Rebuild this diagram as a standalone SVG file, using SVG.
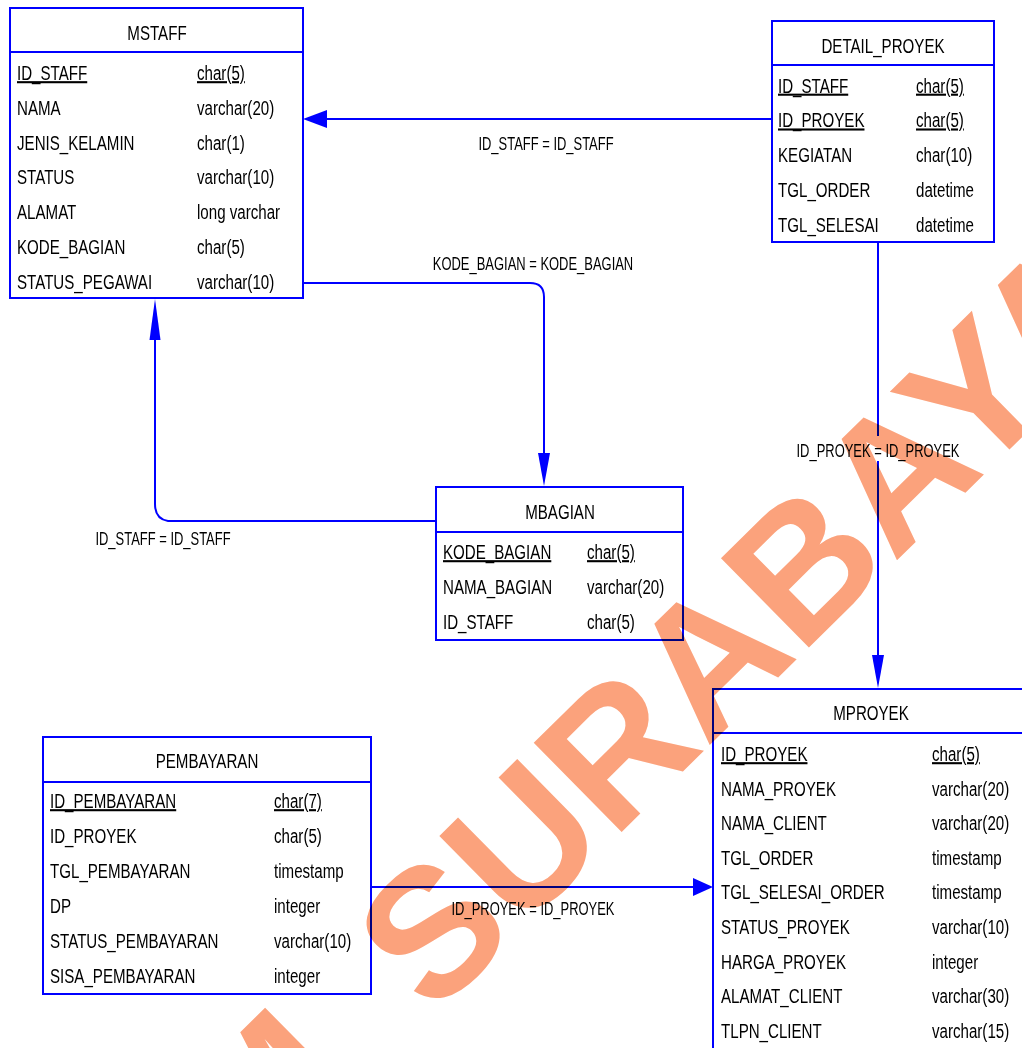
<svg xmlns="http://www.w3.org/2000/svg" width="1022" height="1048" viewBox="0 0 1022 1048">
<style>
.box{fill:#fff;stroke:#0000ff;stroke-width:2}
.hl{stroke:#0000ff;stroke-width:2}
.t{font-family:"Liberation Sans",Arial,sans-serif;font-size:21px;fill:#000}
.m{text-anchor:middle}
.u{text-decoration:underline}
.lb{font-family:"Liberation Sans",Arial,sans-serif;font-size:18px;fill:#000;text-anchor:middle}
.c{fill:none;stroke:#0000ff;stroke-width:2}
.ah{fill:#0000ff}
.wm{font-family:"Liberation Sans",Arial,sans-serif;font-weight:bold;font-size:182px;fill:#FBA27C;mix-blend-mode:multiply}
</style>
<rect width="1022" height="1048" fill="#fff"/>

<g id="connectors">
  <line class="c" x1="771" y1="119" x2="325" y2="119"/>
  <polygon class="ah" points="303,119 327,110 327,128"/>
  <path class="c" d="M303 283 H530 Q544 283 544 297 V460"/>
  <polygon class="ah" points="544,486 538,453 550,453"/>
  <path class="c" d="M436 521 H168 Q155 519 155 504 V336"/>
  <polygon class="ah" points="155,299 149.5,340 160.5,340"/>
  <line class="c" x1="878" y1="242" x2="878" y2="436"/>
  <line class="c" x1="878" y1="461" x2="878" y2="660"/>
  <polygon class="ah" points="878,688 872,655 884,655"/>
  <line class="c" x1="371" y1="887" x2="695" y2="887"/>
  <polygon class="ah" points="713,887 693,878 693,896"/>
  <text class="lb" transform="translate(546 150) scale(0.72 1)">ID_STAFF = ID_STAFF</text>
  <text class="lb" transform="translate(533 270) scale(0.72 1)">KODE_BAGIAN = KODE_BAGIAN</text>
  <text class="lb" transform="translate(163 545) scale(0.72 1)">ID_STAFF = ID_STAFF</text>
  <text class="lb" transform="translate(878 457) scale(0.72 1)">ID_PROYEK = ID_PROYEK</text>
  <text class="lb" transform="translate(533 915) scale(0.72 1)">ID_PROYEK = ID_PROYEK</text>
</g>

<g id="MSTAFF">
  <rect class="box" x="10" y="8" width="293" height="290"/>
  <line class="hl" x1="10" y1="52" x2="303" y2="52"/>
  <text class="t m" transform="translate(157 40) scale(0.72 1)">MSTAFF</text>
  <text class="t u" transform="translate(17 80) scale(0.72 1)">ID_STAFF</text>
  <text class="t u" transform="translate(197 80) scale(0.72 1)">char(5)</text>
  <text class="t" transform="translate(17 114.8) scale(0.72 1)">NAMA</text>
  <text class="t" transform="translate(197 114.8) scale(0.72 1)">varchar(20)</text>
  <text class="t" transform="translate(17 149.6) scale(0.72 1)">JENIS_KELAMIN</text>
  <text class="t" transform="translate(197 149.6) scale(0.72 1)">char(1)</text>
  <text class="t" transform="translate(17 184.4) scale(0.72 1)">STATUS</text>
  <text class="t" transform="translate(197 184.4) scale(0.72 1)">varchar(10)</text>
  <text class="t" transform="translate(17 219.2) scale(0.72 1)">ALAMAT</text>
  <text class="t" transform="translate(197 219.2) scale(0.72 1)">long varchar</text>
  <text class="t" transform="translate(17 254) scale(0.72 1)">KODE_BAGIAN</text>
  <text class="t" transform="translate(197 254) scale(0.72 1)">char(5)</text>
  <text class="t" transform="translate(17 288.8) scale(0.72 1)">STATUS_PEGAWAI</text>
  <text class="t" transform="translate(197 288.8) scale(0.72 1)">varchar(10)</text>
</g>

<g id="DETAIL_PROYEK">
  <rect class="box" x="772" y="21" width="222" height="221"/>
  <line class="hl" x1="772" y1="65" x2="994" y2="65"/>
  <text class="t m" transform="translate(883 53) scale(0.72 1)">DETAIL_PROYEK</text>
  <text class="t u" transform="translate(778 92.5) scale(0.72 1)">ID_STAFF</text>
  <text class="t u" transform="translate(916 92.5) scale(0.72 1)">char(5)</text>
  <text class="t u" transform="translate(778 127.3) scale(0.72 1)">ID_PROYEK</text>
  <text class="t u" transform="translate(916 127.3) scale(0.72 1)">char(5)</text>
  <text class="t" transform="translate(778 162.1) scale(0.72 1)">KEGIATAN</text>
  <text class="t" transform="translate(916 162.1) scale(0.72 1)">char(10)</text>
  <text class="t" transform="translate(778 196.9) scale(0.72 1)">TGL_ORDER</text>
  <text class="t" transform="translate(916 196.9) scale(0.72 1)">datetime</text>
  <text class="t" transform="translate(778 231.7) scale(0.72 1)">TGL_SELESAI</text>
  <text class="t" transform="translate(916 231.7) scale(0.72 1)">datetime</text>
</g>

<g id="MBAGIAN">
  <rect class="box" x="436" y="487" width="247" height="153"/>
  <line class="hl" x1="436" y1="532" x2="683" y2="532"/>
  <text class="t m" transform="translate(560 519) scale(0.72 1)">MBAGIAN</text>
  <text class="t u" transform="translate(443 559) scale(0.72 1)">KODE_BAGIAN</text>
  <text class="t u" transform="translate(587 559) scale(0.72 1)">char(5)</text>
  <text class="t" transform="translate(443 594) scale(0.72 1)">NAMA_BAGIAN</text>
  <text class="t" transform="translate(587 594) scale(0.72 1)">varchar(20)</text>
  <text class="t" transform="translate(443 629) scale(0.72 1)">ID_STAFF</text>
  <text class="t" transform="translate(587 629) scale(0.72 1)">char(5)</text>
</g>

<g id="PEMBAYARAN">
  <rect class="box" x="43" y="737" width="328" height="257"/>
  <line class="hl" x1="43" y1="782" x2="371" y2="782"/>
  <text class="t m" transform="translate(207 768) scale(0.72 1)">PEMBAYARAN</text>
  <text class="t u" transform="translate(50 808) scale(0.72 1)">ID_PEMBAYARAN</text>
  <text class="t u" transform="translate(274 808) scale(0.72 1)">char(7)</text>
  <text class="t" transform="translate(50 843) scale(0.72 1)">ID_PROYEK</text>
  <text class="t" transform="translate(274 843) scale(0.72 1)">char(5)</text>
  <text class="t" transform="translate(50 878) scale(0.72 1)">TGL_PEMBAYARAN</text>
  <text class="t" transform="translate(274 878) scale(0.72 1)">timestamp</text>
  <text class="t" transform="translate(50 913) scale(0.72 1)">DP</text>
  <text class="t" transform="translate(274 913) scale(0.72 1)">integer</text>
  <text class="t" transform="translate(50 948) scale(0.72 1)">STATUS_PEMBAYARAN</text>
  <text class="t" transform="translate(274 948) scale(0.72 1)">varchar(10)</text>
  <text class="t" transform="translate(50 983) scale(0.72 1)">SISA_PEMBAYARAN</text>
  <text class="t" transform="translate(274 983) scale(0.72 1)">integer</text>
</g>

<g id="MPROYEK">
  <rect class="box" x="713" y="689" width="316" height="380"/>
  <line class="hl" x1="713" y1="733" x2="1029" y2="733"/>
  <text class="t m" transform="translate(871 720) scale(0.72 1)">MPROYEK</text>
  <text class="t u" transform="translate(721 761) scale(0.72 1)">ID_PROYEK</text>
  <text class="t u" transform="translate(932 761) scale(0.72 1)">char(5)</text>
  <text class="t" transform="translate(721 795.6) scale(0.72 1)">NAMA_PROYEK</text>
  <text class="t" transform="translate(932 795.6) scale(0.72 1)">varchar(20)</text>
  <text class="t" transform="translate(721 830.2) scale(0.72 1)">NAMA_CLIENT</text>
  <text class="t" transform="translate(932 830.2) scale(0.72 1)">varchar(20)</text>
  <text class="t" transform="translate(721 864.8) scale(0.72 1)">TGL_ORDER</text>
  <text class="t" transform="translate(932 864.8) scale(0.72 1)">timestamp</text>
  <text class="t" transform="translate(721 899.4) scale(0.72 1)">TGL_SELESAI_ORDER</text>
  <text class="t" transform="translate(932 899.4) scale(0.72 1)">timestamp</text>
  <text class="t" transform="translate(721 934) scale(0.72 1)">STATUS_PROYEK</text>
  <text class="t" transform="translate(932 934) scale(0.72 1)">varchar(10)</text>
  <text class="t" transform="translate(721 968.6) scale(0.72 1)">HARGA_PROYEK</text>
  <text class="t" transform="translate(932 968.6) scale(0.72 1)">integer</text>
  <text class="t" transform="translate(721 1003.2) scale(0.72 1)">ALAMAT_CLIENT</text>
  <text class="t" transform="translate(932 1003.2) scale(0.72 1)">varchar(30)</text>
  <text class="t" transform="translate(721 1037.8) scale(0.72 1)">TLPN_CLIENT</text>
  <text class="t" transform="translate(932 1037.8) scale(0.72 1)">varchar(15)</text>
</g>

<g id="watermark" transform="translate(433 1018) rotate(-44.6)">
  <text class="wm" x="-100" y="0" text-anchor="end">STIKOM</text>
  <text class="wm" x="0" y="0">SURABAYA</text>
</g>
</svg>
